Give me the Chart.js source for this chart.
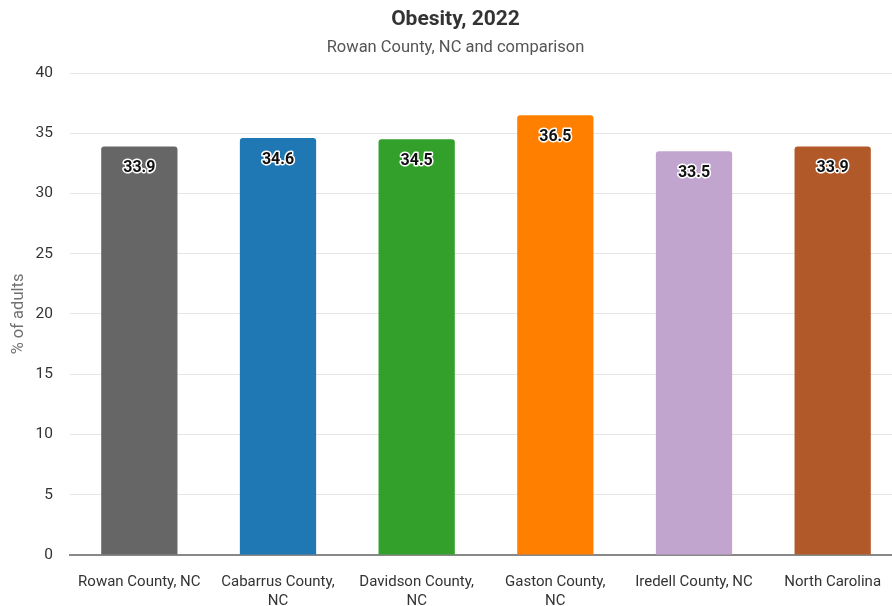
<!DOCTYPE html>
<html>
<head>
<meta charset="utf-8">
<script src="https://cdn.jsdelivr.net/npm/chart.js@4/dist/chart.umd.min.js"></script>
<style>
  html, body { margin: 0; padding: 0; background: #fff; overflow: hidden; }
  #wrap { width: 902px; height: 629px; position: relative; }
</style>
</head>
<body>
<div id="wrap"><canvas id="chart"></canvas></div>
<script>
const areas = [
  'Rowan County, NC',
  ['Cabarrus County,', 'NC'],
  ['Davidson County,', 'NC'],
  ['Gaston County,', 'NC'],
  'Iredell County, NC',
  'North Carolina'
];
const obesity = [33.9, 34.6, 34.5, 36.5, 33.5, 33.9];
const barColors = ['#666666', '#1f78b4', '#33a02c', '#ff7f00', '#c2a5cf', '#b15928'];
const yTicks = [0, 5, 10, 15, 20, 25, 30, 35, 40];

const FONT = 'Roboto, "Liberation Sans", sans-serif';

// value labels just under the top of each bar, black with white halo
const valueLabels = {
  id: 'valueLabels',
  afterDatasetsDraw(chart) {
    const ctx = chart.ctx;
    const meta = chart.getDatasetMeta(0);
    ctx.save();
    ctx.font = 'bold 16px ' + FONT;
    ctx.textAlign = 'center';
    ctx.textBaseline = 'middle';
    ctx.lineJoin = 'round';
    meta.data.forEach((bar, i) => {
      const txt = obesity[i].toFixed(1);
      const y = bar.y + 22;
      ctx.lineWidth = 3;
      ctx.strokeStyle = '#ffffff';
      ctx.strokeText(txt, bar.x, y);
      ctx.fillStyle = '#111111';
      ctx.fillText(txt, bar.x, y);
    });
    ctx.restore();
  }
};

new Chart(document.getElementById('chart'), {
  type: 'bar',
  data: {
    labels: areas,
    datasets: [{
      data: obesity,
      backgroundColor: barColors,
      borderRadius: { topLeft: 3, topRight: 3 },
      borderSkipped: 'bottom',
      categoryPercentage: 1,
      barPercentage: 0.55
    }]
  },
  options: {
    responsive: true,
    maintainAspectRatio: false,
    animation: false,
    layout: { padding: { top: 7, left: 9, right: 0, bottom: 0 } },
    plugins: {
      legend: { display: false },
      tooltip: { enabled: false },
      title: {
        display: true,
        text: 'Obesity, 2022',
        color: '#333333',
        font: { family: FONT, size: 21, weight: 'bold' },
        padding: { top: 0, bottom: 6 }
      },
      subtitle: {
        display: true,
        text: 'Rowan County, NC and comparison',
        color: '#555555',
        font: { family: FONT, size: 16.5 },
        padding: { top: 0, bottom: 15 }
      }
    },
    scales: {
      x: {
        grid: { display: false, drawTicks: false },
        border: { display: true, color: '#888888', width: 2 },
        ticks: {
          color: '#333333',
          font: { family: FONT, size: 15, lineHeight: 1.27 },
          maxRotation: 0,
          autoSkip: false,
          padding: 18
        }
      },
      y: {
        min: 0,
        max: 40,
        afterBuildTicks(axis) {
          axis.ticks = yTicks.map(v => ({ value: v }));
        },
        afterFit(axis) {
          axis.width = 61;
        },
        grid: { color: '#e6e6e6', drawTicks: false, lineWidth: 1 },
        border: { display: false },
        ticks: {
          color: '#333333',
          font: { family: FONT, size: 15.5 },
          padding: 17
        },
        title: {
          display: true,
          text: '% of adults',
          color: '#707070',
          font: { family: FONT, size: 16.5 },
          padding: { top: 0, bottom: 4 }
        }
      }
    }
  },
  plugins: [valueLabels]
});
</script>
</body>
</html>
